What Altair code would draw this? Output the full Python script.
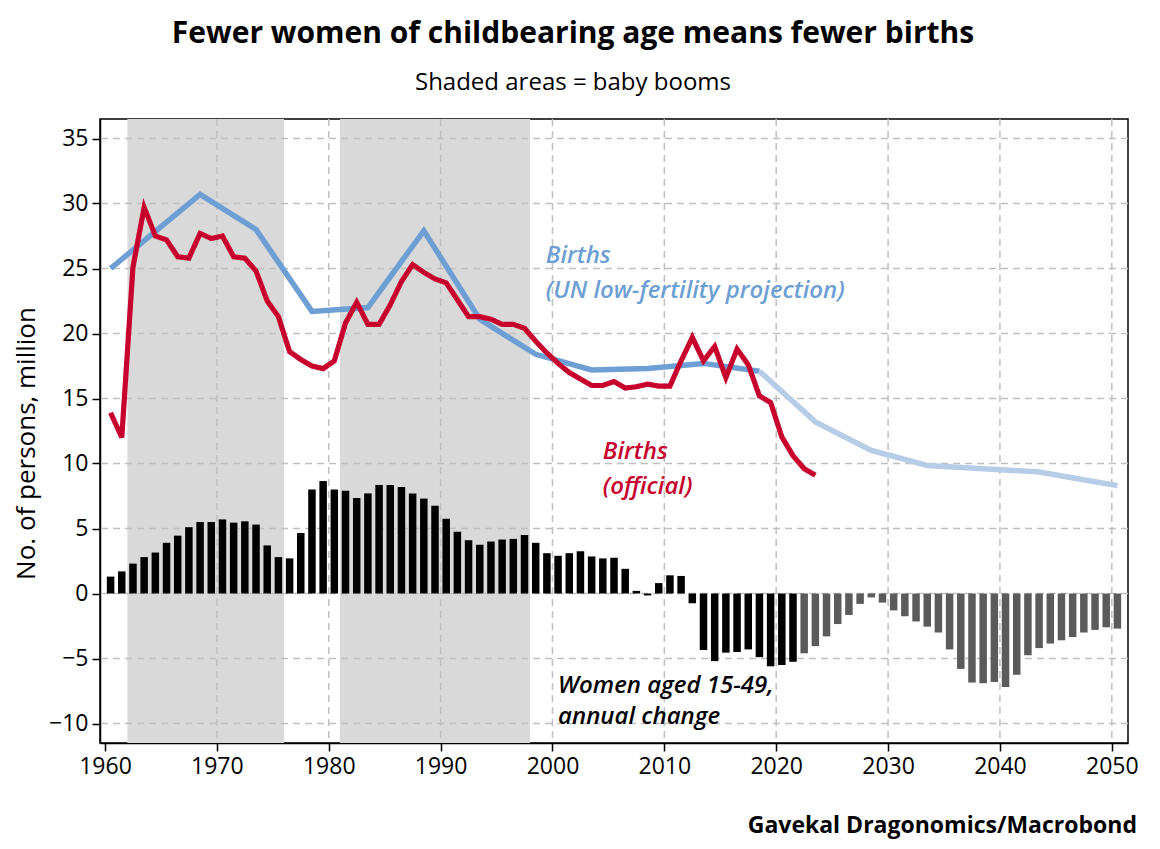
import altair as alt
import pandas as pd

W, H = 1028, 624

# ---- data ----
bar_years_actual = list(range(1960, 2022))
women_change_actual = [
    1.3, 1.7, 2.3, 2.8, 3.15, 3.9, 4.45, 5.1, 5.5, 5.5,
    5.7, 5.45, 5.55, 5.3, 3.7, 2.8, 2.7, 4.65, 8.0, 8.65,
    8.0, 7.9, 7.35, 7.7, 8.35, 8.35, 8.2, 7.7, 7.3, 6.75,
    5.75, 4.75, 4.1, 3.75, 4.0, 4.15, 4.2, 4.5, 3.9, 3.1,
    2.9, 3.1, 3.25, 2.85, 2.7, 2.75, 1.9, 0.2, -0.15, 0.8,
    1.4, 1.35, -0.75, -4.35, -5.2, -4.55, -4.5, -4.3, -4.9, -5.6,
    -5.5, -5.25,
]
bar_years_proj = list(range(2022, 2051))
women_change_proj = [
    -4.6, -4.05, -3.3, -2.35, -1.65, -0.8, -0.3, -0.7,
    -1.3, -1.75, -2.15, -2.55, -3.0, -4.3, -5.8, -6.85, -6.9, -6.8,
    -7.2, -6.25, -4.75, -4.2, -3.85, -3.6, -3.35, -3.0, -2.8, -2.6,
    -2.7,
]
births_years = list(range(1960, 2024))
births_official = [
    13.9, 12.0, 25.1, 29.7, 27.5, 27.2, 25.9, 25.8, 27.7, 27.3,
    27.5, 25.9, 25.8, 24.8, 22.5, 21.3, 18.6, 18.0, 17.5, 17.3,
    17.9, 20.8, 22.4, 20.7, 20.7, 22.2, 24.0, 25.3, 24.7, 24.2,
    23.9, 22.6, 21.3, 21.3, 21.1, 20.7, 20.7, 20.4, 19.4, 18.5,
    17.7, 17.0, 16.5, 16.0, 16.0, 16.3, 15.8, 15.9, 16.1, 15.95,
    15.95, 17.9, 19.7, 17.9, 19.0, 16.6, 18.8, 17.6, 15.2, 14.7,
    12.05, 10.6, 9.6, 9.1,
]
un_years_hist = [1960.5, 1968.5, 1973.5, 1978.5, 1983.5, 1988.5,
                 1993.5, 1998.5, 2003.5, 2008.5, 2013.5, 2018.5]
un_births_hist = [25.0, 30.7, 28.0, 21.7, 22.0, 27.9,
                  21.1, 18.4, 17.2, 17.3, 17.7, 17.1]
un_years_proj = [2018.5, 2023.5, 2028.5, 2033.5, 2038.5, 2043.5, 2048.5, 2050.5]
un_births_proj = [17.1, 13.2, 11.0, 9.85, 9.6, 9.35, 8.6, 8.3]
boom_start = [1962, 1981]
boom_end = [1976, 1998]
x_ticks = list(range(1960, 2051, 10))
y_ticks = list(range(-10, 36, 5))

notes_text = ["Births", "(UN low-fertility projection)", "Births", "(official)",
              "Women aged 15-49,", "annual change"]
notes_x = [1999.4, 1999.4, 2004.5, 2004.5, 2000.5, 2000.5]
notes_y = [26.0, 23.3, 10.9, 8.2, -7.1, -9.5]
notes_color = ["#6e9fd4", "#6e9fd4", "#c8002d", "#c8002d", "#000000", "#000000"]

# ---- tables ----
bars_a = pd.DataFrame({"x": [y + 0.5 for y in bar_years_actual], "y": women_change_actual})
bars_p = pd.DataFrame({"x": [y + 0.5 for y in bar_years_proj], "y": women_change_proj})
births = pd.DataFrame({"x": [y + 0.5 for y in births_years], "y": births_official})
un_h = pd.DataFrame({"x": un_years_hist, "y": un_births_hist})
un_p = pd.DataFrame({"x": un_years_proj, "y": un_births_proj})
booms = pd.DataFrame({"start": boom_start, "end": boom_end})
hgrid = pd.DataFrame({"y": y_ticks})
vgrid = pd.DataFrame({"x": [t for t in x_ticks if t > 1960]})
notes = pd.DataFrame({"x": notes_x, "y": notes_y, "text": notes_text, "c": notes_color})
footer = pd.DataFrame({"text": ["Gavekal Dragonomics/Macrobond"]})

FONT = "Open Sans"
xscale = alt.Scale(domain=[1960, 2051], nice=False, zero=False)
yscale = alt.Scale(domain=[-11.5, 36.5], nice=False, zero=False)
xaxis = alt.Axis(values=x_ticks, format="d", title=None, grid=False,
                 labelFont=FONT, labelFontSize=23, labelColor="black",
                 tickColor="black", tickSize=8, tickWidth=1.5,
                 domainColor="black", domainWidth=1.5, labelPadding=4,
                 labelFlush=False)
yaxis = alt.Axis(values=y_ticks, title="No. of persons, million", grid=False,
                 labelFont=FONT, labelFontSize=23, labelColor="black",
                 tickColor="black", tickSize=8, tickWidth=1.5,
                 domainColor="black", domainWidth=1.5, labelPadding=4,
                 titleFont=FONT, titleFontSize=26, titleFontWeight="normal",
                 titleColor="black", titleAngle=270, titleAlign="center",
                 titleBaseline="middle", titleX=-74, titleY=324)

X = alt.X("x:Q", scale=xscale, axis=xaxis)
Y = alt.Y("y:Q", scale=yscale, axis=yaxis)

shade = alt.Chart(booms).mark_rect(color="#d9d9d9").encode(
    x=alt.X("start:Q", scale=xscale, axis=xaxis), x2="end:Q",
    y=alt.value(0), y2=alt.value(H))

grid_style = dict(color="#c0c0c0", strokeWidth=1.5, strokeDash=[7, 5])
hg = alt.Chart(hgrid).mark_rule(**grid_style).encode(y=Y)
vg = alt.Chart(vgrid).mark_rule(**grid_style).encode(x=X)

ba = alt.Chart(bars_a).mark_bar(color="black", size=7.5).encode(x=X, y=Y, y2=alt.datum(0))
bp = alt.Chart(bars_p).mark_bar(color="#5b5b5b", size=7.5).encode(x=X, y=Y, y2=alt.datum(0))

blue_h = alt.Chart(un_h).mark_line(color="#6e9fd4", strokeWidth=5.5).encode(x=X, y=Y)
blue_p = alt.Chart(un_p).mark_line(color="#b7cce6", strokeWidth=5.5).encode(x=X, y=Y)
red = alt.Chart(births).mark_line(color="#c8002d", strokeWidth=5.2).encode(x=X, y=Y)

txt = alt.Chart(notes).mark_text(align="left", baseline="middle", font=FONT,
                                 fontSize=24, fontStyle="italic", fontWeight=600).encode(
    x=X, y=Y, text="text:N", color=alt.Color("c:N", scale=None))

foot = alt.Chart(footer).mark_text(align="right", baseline="middle", font=FONT,
                                   fontSize=23, fontWeight="bold", color="black").encode(
    x=alt.value(1037), y=alt.value(707), text="text:N")

chart = alt.layer(shade, hg, vg, ba, bp, blue_h, blue_p, red, txt, foot).properties(
    width=W, height=H,
    autosize=alt.AutoSizeParams(type="none"),
    padding={"left": 92, "top": 111, "right": 24, "bottom": 98},
    title=alt.TitleParams(
        text="Fewer women of childbearing age means fewer births",
        subtitle="Shaded areas = baby booms",
        font=FONT, fontSize=30, fontWeight="bold", color="black",
        subtitleFont=FONT, subtitleFontSize=24, subtitleColor="black",
        subtitlePadding=22, anchor="middle", frame="group", dx=-41, offset=23),
).configure_view(stroke="black", strokeWidth=1.5)

chart.save("out.html", embed_options={"renderer": "svg", "actions": False})
